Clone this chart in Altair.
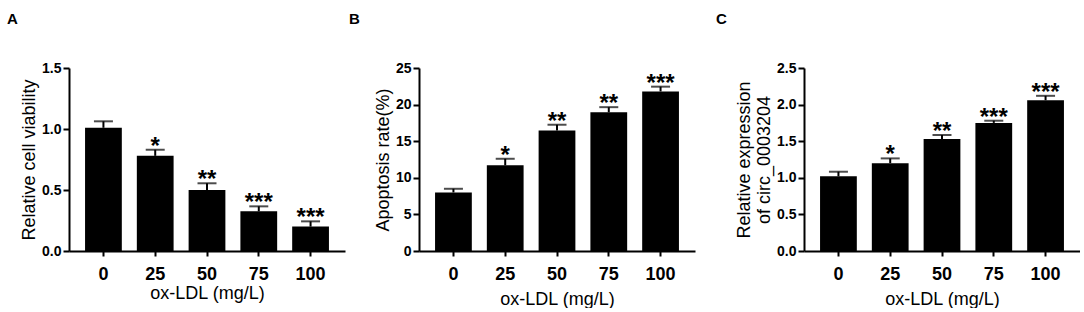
import altair as alt
import pandas as pd

doses = ["0", "25", "50", "75", "100"]

viability = [1.01, 0.78, 0.50, 0.325, 0.20]
viability_top = [1.063, 0.83, 0.555, 0.366, 0.243]
viability_sig = ["", "*", "**", "***", "***"]

apoptosis = [8.0, 11.7, 16.45, 18.95, 21.8]
apoptosis_top = [8.5, 12.6, 17.25, 19.65, 22.45]
apoptosis_sig = ["", "*", "**", "**", "***"]

expression = [1.02, 1.20, 1.53, 1.75, 2.06]
expression_top = [1.083, 1.265, 1.585, 1.78, 2.12]
expression_sig = ["", "*", "**", "***", "***"]

FONT = "Arial, Liberation Sans, sans-serif"
W, H = 276, 183


def panel(letter, values, tops, sig, ytitle, ymax, ticks, fmt, letter_dx, xtitle_pad):
    df = pd.DataFrame({"dose": doses, "value": values, "top": tops, "sig": sig})
    x = alt.X(
        "dose:N",
        sort=doses,
        scale=alt.Scale(paddingInner=0.29, paddingOuter=0.31),
        axis=alt.Axis(
            title="ox-LDL (mg/L)",
            labelAngle=0,
            labelFontSize=18,
            labelPadding=9,
            tickSize=5,
            titleFontSize=18,
            titlePadding=xtitle_pad,
        ),
    )
    y_scale = alt.Scale(domain=[0, ymax], nice=False)
    y = alt.Y(
        "value:Q",
        scale=y_scale,
        axis=alt.Axis(
            title=ytitle,
            values=ticks,
            tickCount=len(ticks),
            format=fmt,
            labelFontSize=14,
            labelPadding=2,
            tickSize=6,
            grid=False,
            titleFontSize=18,
            titlePadding=3,
        ),
    )
    base = alt.Chart(df)
    bars = base.mark_bar(color="black").encode(x=x, y=y)
    stem = base.mark_rule(color="black", strokeWidth=2).encode(
        x=alt.X("dose:N", sort=doses),
        y=alt.Y("value:Q", scale=y_scale),
        y2="top:Q",
    )
    cap = base.mark_tick(color="black", thickness=2, size=19, orient="horizontal").encode(
        x=alt.X("dose:N", sort=doses),
        y=alt.Y("top:Q", scale=y_scale),
    )
    stars = base.mark_text(
        font=FONT, fontSize=24, fontWeight="bold", color="black",
        baseline="alphabetic", dy=4,
    ).encode(
        x=alt.X("dose:N", sort=doses),
        y=alt.Y("top:Q", scale=y_scale),
        text="sig:N",
    )
    return alt.layer(bars, stem, cap, stars).properties(
        width=W,
        height=H,
        title=alt.TitleParams(
            text=letter,
            anchor="start",
            frame="group",
            dx=letter_dx,
            offset=34,
            font=FONT,
            fontSize=15,
            fontWeight="bold",
            color="black",
        ),
    )


pA = panel("A", viability, viability_top, viability_sig, "Relative cell viability",
           1.5, [0, 0.5, 1.0, 1.5], ".1f", -62, 1)
pB = panel("B", apoptosis, apoptosis_top, apoptosis_sig, "Apoptosis rate(%)",
           25, [0, 5, 10, 15, 20, 25], "d", -70, 7)
pC = panel("C", expression, expression_top, expression_sig,
           ["Relative expression", "of circ_0003204"],
           2.5, [0, 0.5, 1.0, 1.5, 2.0, 2.5], ".1f", -88, 7)

chart = (
    alt.hconcat(alt.hconcat(pA, pB, spacing=4), pC, spacing=21)
    .properties(
        padding={"left": 7, "top": 12, "right": 0, "bottom": 0},
        background="white",
    )
    .configure_view(stroke=None)
    .configure_axis(
        labelOverlap=False,
        labelFlush=False,
        labelFont=FONT,
        labelFontWeight="bold",
        labelColor="black",
        tickWidth=2,
        tickColor="black",
        domainColor="black",
        domainWidth=2,
        titleFont=FONT,
        titleFontWeight="normal",
        titleColor="black",
    )
)

chart.save("out.html", embed_options={"renderer": "svg", "actions": False})
